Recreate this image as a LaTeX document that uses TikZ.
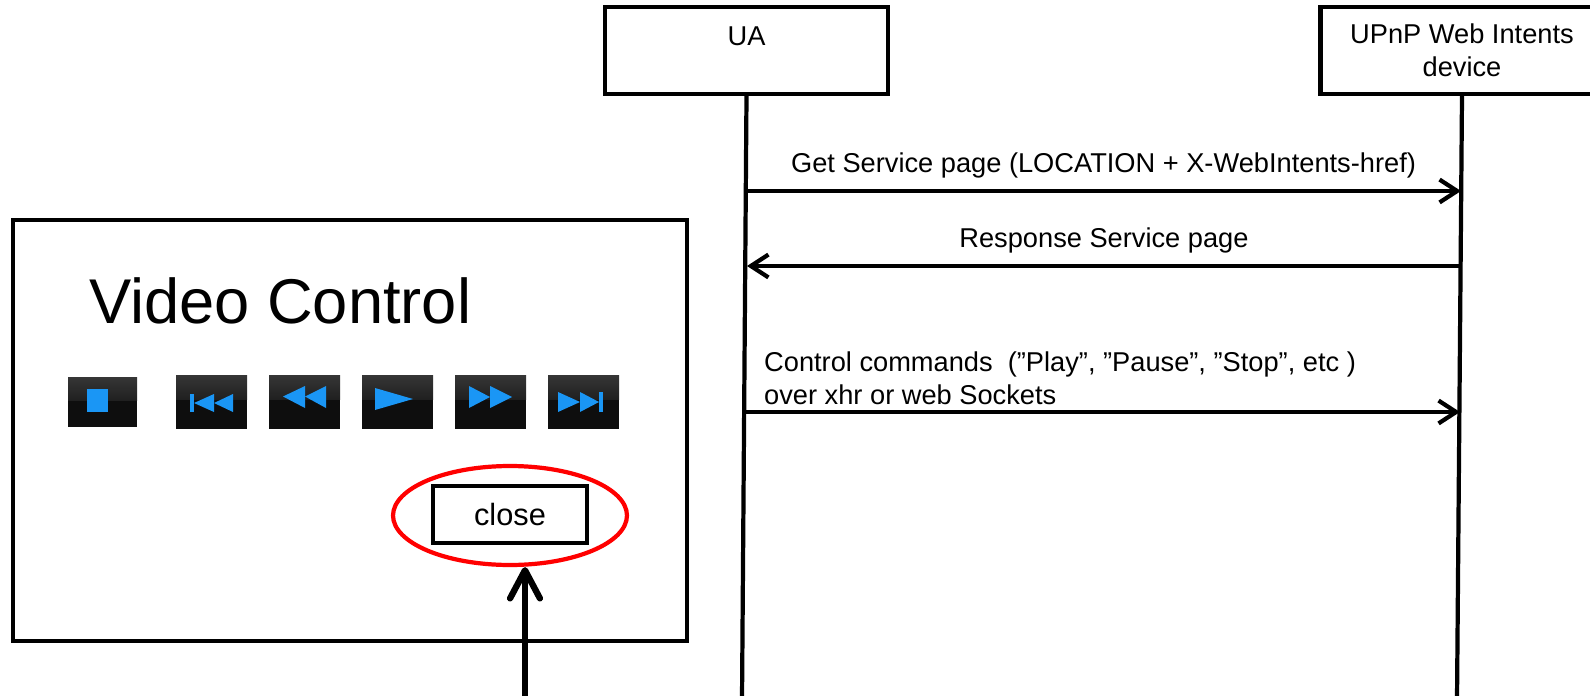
\documentclass[tikz,border=0pt]{standalone}
\usepackage{fontspec}
\setmainfont{Liberation Sans}
\usetikzlibrary{arrows.meta,shapes.geometric}
\definecolor{btnblue}{RGB}{26,150,245}
\definecolor{btntop}{RGB}{54,54,54}
\definecolor{btnmid}{RGB}{32,32,32}
\definecolor{btnlow}{RGB}{14,14,14}

\begin{document}
\begin{tikzpicture}[x=0.02cm, y=-0.02cm,
    every node/.style={font=\fontsize{15.5}{19}\selectfont},
    lifebox/.style={draw, line width=2.4pt, minimum width=5.66cm, minimum height=1.74cm, align=center},
    lifeline/.style={line width=2.4pt},
    msg/.style={line width=2.4pt, -{Straight Barb[length=10pt,width=13pt]}},
    clickarrow/.style={line width=3.6pt, -{Straight Barb[length=16pt,width=17pt,round]}}]
    \useasboundingbox (0,0) rectangle (1590,696);
    \node[lifebox] (ua) at (746.5,50.5) {};
    \node (ualbl) at (746.5,36) {UA};
    \node[lifebox] (dev) at (1462,50.5) {UPnP Web Intents\\device};
    \coordinate (uaend) at (742,700);
    \coordinate (devend) at (1457,700);
    \draw [lifeline] (ua.south) to (uaend);
    \draw [lifeline] (dev.south) to (devend);
    \coordinate (get0) at (746,191);
    \coordinate (get1) at (1461,191);
    \coordinate (resp0) at (1461,266);
    \coordinate (resp1) at (747,266);
    \coordinate (cmd0) at (745,412);
    \coordinate (cmd1) at (1460,412);
    \draw [msg] (get0) to node[above=3pt] {Get Service page (LOCATION + X-WebIntents-href)} (get1);
    \draw [msg] (resp0) to node[above=3pt] {Response Service page} (resp1);
    \draw [msg] (cmd0) to (cmd1);
    \node[anchor=west, align=left] (cmdlbl) at (758,378) {Control commands\ \ (”Play”, ”Pause”, ”Stop”, etc )\\over xhr or web Sockets};
    \node[draw, line width=2.4pt, minimum width=13.48cm, minimum height=8.42cm] (panel) at (350,430.5) {};
    \node[anchor=west, font=\fontsize{36}{40}\selectfont] (title) at (83,301) {Video Control};
    \fill [btnlow] (68,377) rectangle (137,427);
    \shade [top color=btntop, bottom color=btnmid] (68,377) rectangle (137,400);
    \foreach \bx in {176,269,362,455,548} {
        \fill [btnlow] (\bx,375) rectangle (\bx+71,429);
        \shade [top color=btntop, bottom color=btnmid] (\bx,375) rectangle (\bx+71,399);
    }
    \fill [btnblue] (87,389) rectangle (108,412);
    \fill [btnblue] (190,394) rectangle (194,412);
    \fill [btnblue] (194,403) -- (214,394) -- (214,412) -- cycle;
    \fill [btnblue] (214,403) -- (233,394) -- (233,412) -- cycle;
    \fill [btnblue] (283,396.5) -- (305,386) -- (305,408) -- cycle;
    \fill [btnblue] (305,396.5) -- (326,386) -- (326,408) -- cycle;
    \fill [btnblue] (375,388) -- (413,399) -- (375,410) -- cycle;
    \fill [btnblue] (469,386) -- (490,397) -- (469,408) -- cycle;
    \fill [btnblue] (490,386) -- (512,397) -- (490,408) -- cycle;
    \fill [btnblue] (558,392) -- (580,402) -- (558,412) -- cycle;
    \fill [btnblue] (580,392) -- (599,402) -- (580,412) -- cycle;
    \fill [btnblue] (599,392) rectangle (603,412);
    \node[draw, line width=2.4pt, minimum width=3.08cm, minimum height=1.14cm, font=\fontsize{17.5}{20}\selectfont] (close) at (510,514.5) {close};
    \node[ellipse, draw=red, line width=2.4pt, minimum width=4.68cm, minimum height=1.98cm, inner sep=0pt] (ring) at (510,515.5) {};
    \coordinate (tapfoot) at (525,700);
    \draw [clickarrow] (tapfoot) to (tapfoot |- ring.south);
\end{tikzpicture}
\end{document}
